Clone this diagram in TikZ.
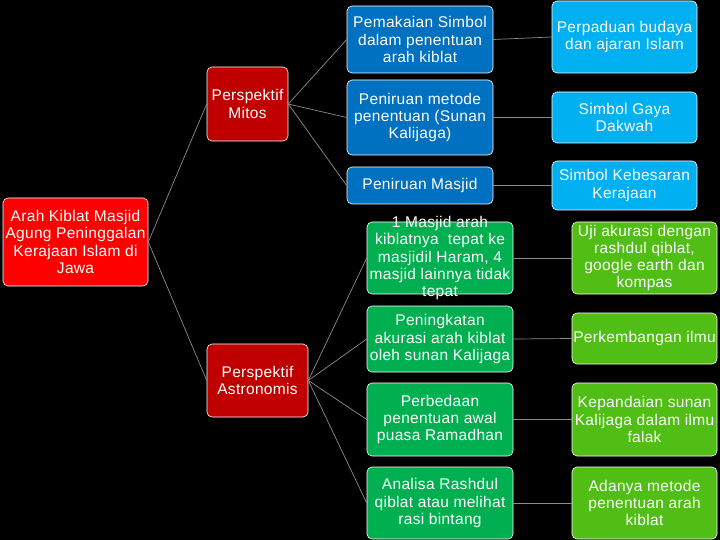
\documentclass[tikz,border=0pt]{standalone}
\usepackage{fontspec}
\setmainfont{Liberation Sans}[LetterSpace=2]
\definecolor{rootred}{HTML}{FF0000}
\definecolor{darkred}{HTML}{C00000}
\definecolor{dblue}{HTML}{0070C0}
\definecolor{lblue}{HTML}{00B0F0}
\definecolor{dgreen}{HTML}{00B050}
\definecolor{lgreen}{HTML}{50BE14}
\definecolor{linkgray}{HTML}{8C8C8C}
\tikzset{
  bx/.style={rectangle, rounded corners=5pt, draw=white, line width=0.6pt,
    text=white, align=center, inner sep=0pt,
    font=\fontsize{15.5}{17.3}\selectfont},
  txt/.style={text=white, align=center, inner sep=0pt,
    font=\fontsize{15.5}{17.3}\selectfont},
  link/.style={draw=linkgray, line width=0.7pt}
}
\begin{document}
\begin{tikzpicture}[x=1pt,y=-1pt]
\fill[black] (0,0) rectangle (720,540);
\useasboundingbox (0,0) rectangle (720,540);

% level 0
\node[bx, fill=rootred, minimum width=145pt, minimum height=88pt] (root) at (75.5,242) {Arah Kiblat Masjid\\Agung Peninggalan\\Kerajaan Islam di\\Jawa};

% level 1
\node[bx, fill=darkred, minimum width=81pt, minimum height=74pt] (mitos) at (247.5,104) {Perspektif\\Mitos};
\node[bx, fill=darkred, minimum width=101pt, minimum height=73pt] (astro) at (257.5,380.5) {Perspektif\\Astronomis};

% level 2 blue
\node[bx, fill=dblue, minimum width=146pt, minimum height=67pt] (pem) at (420,39.5) {Pemakaian Simbol\\dalam penentuan\\arah kiblat};
\node[bx, fill=dblue, minimum width=146pt, minimum height=75pt] (pmet) at (420,117.5) {Peniruan metode\\penentuan (Sunan\\Kalijaga)};
\node[bx, fill=dblue, minimum width=146pt, minimum height=37pt] (pmas) at (420,185.5) {Peniruan Masjid};

% level 3 light blue
\node[bx, fill=lblue, minimum width=145pt, minimum height=72pt] (perp) at (624.5,37) {Perpaduan budaya\\dan ajaran Islam};
\node[bx, fill=lblue, minimum width=145pt, minimum height=51pt] (sgd) at (624.5,117.5) {Simbol Gaya\\Dakwah};
\node[bx, fill=lblue, minimum width=145pt, minimum height=49pt] (skk) at (624.5,185.5) {Simbol Kebesaran\\Kerajaan};

% level 2 green
\node[bx, fill=dgreen, minimum width=146pt, minimum height=72pt] (g1) at (440,258) {};
\node[txt] (g1t) at (g1.center) {1 Masjid arah\\kiblatnya\ \ tepat ke\\masjidil Haram, 4\\masjid lainnya tidak\\tepat};
\node[bx, fill=dgreen, minimum width=146pt, minimum height=66pt] (g2) at (440,339) {Peningkatan\\akurasi arah kiblat\\oleh sunan Kalijaga};
\node[bx, fill=dgreen, minimum width=146pt, minimum height=73pt] (g3) at (440,419.5) {Perbedaan\\penentuan awal\\puasa Ramadhan};
\node[bx, fill=dgreen, minimum width=146pt, minimum height=72pt] (g4) at (440,503) {Analisa Rashdul\\qiblat atau melihat\\rasi bintang};

% level 3 light green
\node[bx, fill=lgreen, minimum width=145pt, minimum height=72pt] (lg1) at (644.5,258) {Uji akurasi dengan\\rashdul qiblat,\\google earth dan\\kompas};
\node[bx, fill=lgreen, minimum width=145pt, minimum height=51pt] (lg2) at (644.5,338.5) {Perkembangan ilmu};
\node[bx, fill=lgreen, minimum width=145pt, minimum height=73pt] (lg3) at (644.5,419.5) {Kepandaian sunan\\Kalijaga dalam ilmu\\falak};
\node[bx, fill=lgreen, minimum width=145pt, minimum height=72pt] (lg4) at (644.5,503) {Adanya metode\\penentuan arah\\kiblat};

% connectors
\draw[link] (root.east) -- (mitos.west);
\draw[link] (root.east) -- (astro.west);
\draw[link] (mitos.east) -- (pem.west);
\draw[link] (mitos.east) -- (pmet.west);
\draw[link] (mitos.east) -- (pmas.west);
\draw[link] (pem.east) -- (perp.west);
\draw[link] (pmet.east) -- (sgd.west);
\draw[link] (pmas.east) -- (skk.west);
\draw[link] (astro.east) -- (g1.west);
\draw[link] (astro.east) -- (g2.west);
\draw[link] (astro.east) -- (g3.west);
\draw[link] (astro.east) -- (g4.west);
\draw[link] (g1.east) -- (lg1.west);
\draw[link] (g2.east) -- (lg2.west);
\draw[link] (g3.east) -- (lg3.west);
\draw[link] (g4.east) -- (lg4.west);
\end{tikzpicture}
\end{document}
